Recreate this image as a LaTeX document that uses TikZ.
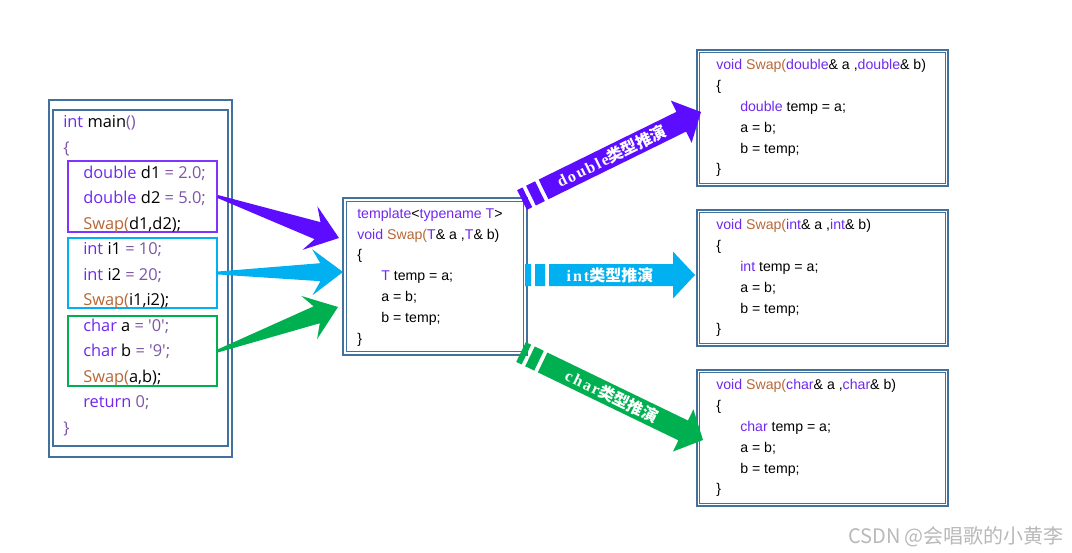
\documentclass[tikz,border=0pt]{standalone}
\usepackage{fontspec}
\usetikzlibrary{calc,fit}
\newfontfamily\ocfont{Open Sans}
\newfontfamily\codefont{Liberation Sans}
\newfontfamily\lblfont[LetterSpace=12]{Liberation Serif}
\newfontfamily\cjkfont{Noto Sans CJK SC}

\definecolor{framecol}{RGB}{65,113,156}
\definecolor{kwcol}{RGB}{112,40,240}
\definecolor{fncol}{RGB}{184,104,56}
\definecolor{opcol}{RGB}{125,85,165}
\definecolor{dcol}{RGB}{92,12,255}
\definecolor{dline}{RGB}{128,52,255}
\definecolor{icol}{RGB}{0,176,240}
\definecolor{ccol}{RGB}{0,176,80}

\newcommand\ckw[1]{\textcolor{kwcol}{#1}}
\newcommand\cfn[1]{\textcolor{fncol}{#1}}
\newcommand\cop[1]{\textcolor{opcol}{#1}}
\newcommand\mind{\hspace*{15pt}}
\newcommand\cind{\hspace*{18pt}}

% point at distance #3 along (#1)->(#2), moved #4 to the side
\newcommand\ap[4]{($($(#1)!#3!(#2)$)!#4!90:(#2)$)}
\newcommand\fatarrow[3]{\fill[#1] \ap{#2}{#3}{0pt}{1.1pt} -- \ap{#3}{#2}{17pt}{-6.75pt} -- \ap{#3}{#2}{23pt}{-17.25pt} -- (#3) -- \ap{#3}{#2}{23pt}{17.25pt} -- \ap{#3}{#2}{17pt}{6.75pt} -- \ap{#2}{#3}{0pt}{-1.1pt} -- cycle;}
\newcommand\stripearrow[4]{%
  \fill[#1] \ap{#2}{#3}{0pt}{8.25pt} -- \ap{#2}{#3}{4.5pt}{8.25pt} -- \ap{#2}{#3}{4.5pt}{-8.25pt} -- \ap{#2}{#3}{0pt}{-8.25pt} -- cycle
    \ap{#2}{#3}{7.5pt}{8.25pt} -- \ap{#2}{#3}{15pt}{8.25pt} -- \ap{#2}{#3}{15pt}{-8.25pt} -- \ap{#2}{#3}{7.5pt}{-8.25pt} -- cycle
    \ap{#2}{#3}{18pt}{8.25pt} -- \ap{#3}{#2}{16.5pt}{-8.25pt} -- \ap{#3}{#2}{16.5pt}{-17.6pt} -- (#3) -- \ap{#3}{#2}{16.5pt}{17.6pt} -- \ap{#3}{#2}{16.5pt}{8.25pt} -- \ap{#2}{#3}{18pt}{-8.25pt} -- cycle;
  \path (#2) -- (#3) node[midway, sloped, text=white, font=\bfseries\fontsize{12}{14}\selectfont] {\lblfont #4\cjkfont 类型推演};}

\begin{document}
\begin{tikzpicture}[x=0.75pt, y=-0.75pt,
  frame/.style={draw=framecol, line width=1.1pt, inner sep=0pt},
  subbox/.style={draw=#1, line width=1.1pt, inner sep=0pt},
  maincode/.style={font=\ocfont\fontsize{12.3}{19.1}\selectfont, align=left, anchor=north west, inner sep=0pt},
  code/.style={font=\codefont\fontsize{10.6}{15.6}\selectfont, align=left, anchor=north west, inner sep=0pt}]
\path[use as bounding box, fill=white] (0,0) rectangle (1072,553);

% main()
\node[frame, fit={(49,100) (232,457)}] (main) {};
\node[frame, fit={(53,110) (228,446)}] (main-in) {};
\foreach \nm/\col/\ya/\yb in {dbox/dline/161/232, ibox/icol/238/308, cbox/ccol/316/386}
  \node[subbox=\col, fit={(68,\ya) (217,\yb)}] (\nm) {};
\node[maincode] (main-code) at (63,109.5) {\strut\ckw{int} main\cop{()}\\
  \cop{\{}\\
  \mind\ckw{double} d1 \cop{= 2.0;}\\
  \mind\ckw{double} d2 \cop{= 5.0;}\\
  \mind\cfn{Swap(}d1,d2);\\
  \mind\ckw{int} i1 \cop{= 10;}\\
  \mind\ckw{int} i2 \cop{= 20;}\\
  \mind\cfn{Swap(}i1,i2);\\
  \mind\ckw{char} a \cop{= \textquotesingle0\textquotesingle;}\\
  \mind\ckw{char} b \cop{= \textquotesingle9\textquotesingle;}\\
  \mind\cfn{Swap(}a,b);\\
  \mind\ckw{return} \cop{0;}\\
  \cop{\}}};

% template
\node[frame, fit={(343,198) (527,355)}] (tmpl) {};
\node[frame, fit=(tmpl), inner sep=-3pt] (tmpl-in) {};
\node[code] (tmpl-code) at (357,203.5) {\strut\ckw{template}<\ckw{typename T}>\\
  \ckw{void} \cfn{Swap(}\ckw{T}\& a ,\ckw{T}\& b)\\
  \{\\
  \cind\ckw{T} temp = a;\\
  \cind a = b;\\
  \cind b = temp;\\
  \}};

% instances
\foreach \nm/\y/\ty in {swapd/50/double, swapi/210/int, swapc/370/char}{
  \node[frame, fit={(697,\y) (948,{\y+136})}] (\nm) {};
  \node[frame, fit=(\nm), inner sep=-2.25pt] (\nm-in) {};
  \node[code] (\nm-code) at (716,{\y+5}) {\strut\ckw{void} \cfn{Swap(}\ckw{\ty}\& a ,\ckw{\ty}\& b)\\
    \{\\
    \cind\ckw{\ty} temp = a;\\
    \cind a = b;\\
    \cind b = temp;\\
    \}};
}

\coordinate (dtip) at (339,238);
\coordinate (itip) at (343,272);
\coordinate (ctip) at (338,307);
\foreach \col/\a/\b in {dcol/dbox.east/dtip, icol/ibox.east/itip, ccol/cbox.east/ctip}
  \fatarrow{\col}{\a}{\b};

\coordinate (dstart) at (522,200);
\coordinate (istart) at (525,275);
\coordinate (cstart) at (521,352);
\coordinate (dend) at (701,112);
\coordinate (iend) at (695,275);
\coordinate (cend) at (703,440);
\foreach \col/\a/\b/\ty in {dcol/dstart/dend/double, icol/istart/iend/int, ccol/cstart/cend/char}
  \stripearrow{\col}{\a}{\b}{\ty};

\node[font=\cjkfont\fontsize{15}{18}\selectfont, text=gray!55] (mark) at (956,537) {CSDN @会唱歌的小黄李};
\end{tikzpicture}
\end{document}
